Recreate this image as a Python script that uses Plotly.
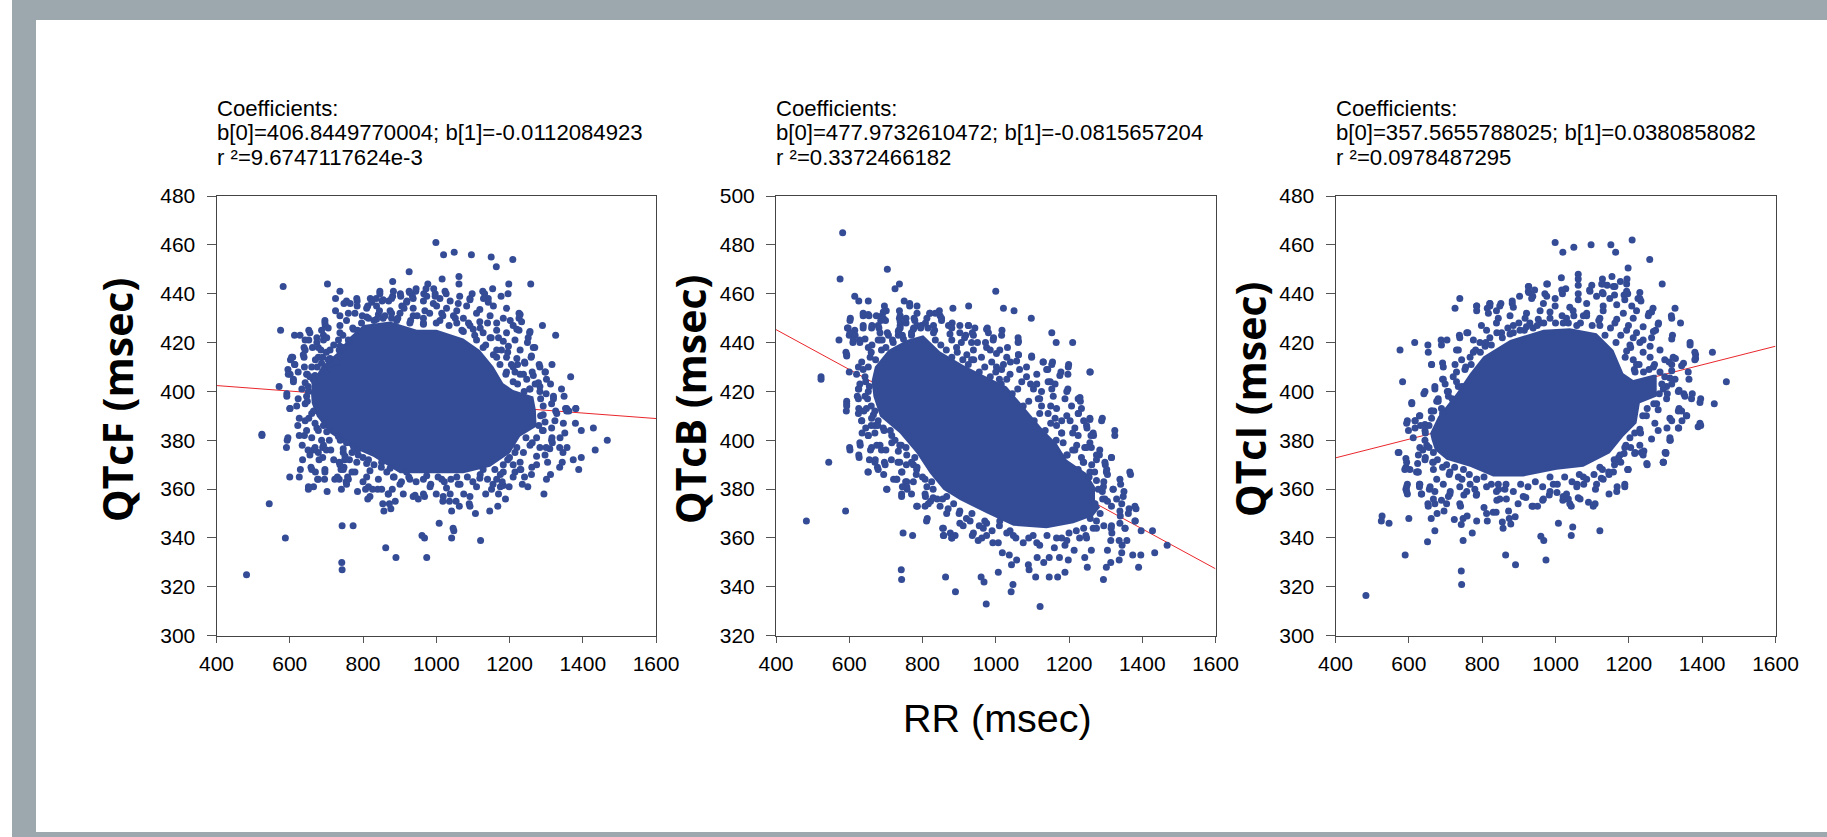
import plotly.graph_objects as go

W, H = 1827, 837

# Every scatter point below. The saturated centre of each
# cloud is drawn as a filled outline (also read off), since single dots cannot be told apart there.
RR_RANGE = [400, 1600]
RR_TICKS = [400, 600, 800, 1000, 1200, 1400, 1600]

QTCF_FIT_Y = [402.4, 388.9]
QTCB_FIT_Y = [445.3, 347.4]
QTCI_FIT_Y = [372.8, 418.5]

QTCF_CORE = [(658,399.5),(660,403.3),(687,410.2),(728,415.6),(765,422.4),(801,427.2),(874,428.6),(947,425.2),(1001,425.2),
 (1074,421.7),(1119,417),(1156,410.2),(1183,403.3),(1210,400.6),(1265,397.9),(1272,392.4),(1274,385.6),(1229,381.5),(1201,374.7),
 (1147,369.2),(1074,366.5),(983,366.5),(901,366.5),(828,373.3),(765,377.4),(710,382.9),(674,389.7),(660,395.2)]
QTCB_CORE = [(661,424.3),(670,430.1),(707,437),(757,441),(802,443),(848,436.3),(911,430.8),(975,426),(1030,422),(1084,412.4),
 (1130,404.2),(1166,398.8),(1194,392),(1248,386.5),(1271,381),(1271,375.6),(1285,372.6),(1266,369),(1212,366),(1139,364),
 (1048,365),(975,370.1),(902,375.6),(857,379.7),(820,386.5),(784,394.7),(738,402.9),(684,409.7),(666,417.9)]
QTCI_CORE = [(658,382.9),(680,389.7),(730,399.3),(767,407.4),(803,414.3),(876,421.1),(967,425.2),(1039,425.9),(1112,423.8),
 (1158,417),(1185,407.4),(1212,404.7),(1267,406.8),(1276,406.8),(1276,405.2),(1276,397.9),(1230,395.2),(1221,387),(1185,381.5),(1148,374.7),
 (1076,369.2),(1003,367.9),(912,365.2),(830,365.2),(767,369.2),(703,372),(671,376),(662,380.2)]

QTCF_POINTS = [(999,461),(1020,456),(1049,457),(1096,456),(1150,455),(1164,451),(1209,454),(926,449),(1062,447),
 (1016,446),(881,445),(1062,444),(977,444),(1198,444),(1258,444),(703,444),(582,443),(737,441),(846,441),(945,442),
 (926,441),(972,442),(993,442),(1154,442),(1127,441),(1098,440),(1064,439),(1196,440),(1177,439),(1132,440),(1142,438),
 (725,438),(902,440),(881,439),(820,438),(836,438),(748,436),(765,436),(784,437),(784,435),(813,435),(852,437),(870,437),
 (920,437),(935,439),(966,440),(997,439),(1027,440),(1092,438),(1226,432),(1226,430),(1290,427),(1326,423),(1255,424),
 (1226,425),(1202,429),(1269,418),(1249,420),(696,429),(697,427),(652,425),(575,425),(613,423),(628,423),(692,423),
 (652,421),(674,422),(692,421),(639,418),(662,418),(608,414),(602,413),(639,414),(595,409),(613,411),(601,407),(610,405),
 (571,402),(592,399),(592,398),(601,393),(1316,411),(1298,408),(1367,406),(1301,405),(1342,401),(1320,398),(1349,398),
 (1381,393),(1356,393),(1326,392),(1283,402),(1281,411),(1259,414),(1241,412),(1222,411),
 (482,325),(524,382.5),(524,382),(544,354),(588,340),(743,345),(773,345),(742,330),(743,327),(862,336),(890,332),(974,332),
 (961,341),(968,340),(1008,346),(1046,344),(1048,343),(1042,340),(1121,339),(1107,350),(1042,351),(1146,351),(1168,353),
 (1189,356),(1294,358),(1250,361),(1199,361),(1175,361),(857,351),(876,352),(872,354),(888,355),(854,354),(813,356),
 (937,357),(951,356),(968,357),(1018,355),(1036,355),(1054,355),(1063,353),(1090,354),(1092,353),(869,358),(785,359),
 (702,359),(651,360),(665,361),(741,360),(807,360),(826,360),(600,365),(626,365),(629,368),(658,369),(670,367),(696,368),
 (676,364),(695,364),(723,364),(735,364),(758,365),(754,363),(778,367),(740,368),(748,369),(735,371),(750,372),(763,372),
 (746,375),(712,376),(690,373),(690,377),(634,378),(591,377),(593,380),(595,381),(626,382),(622,386),(626,389),(600,393),
 (1261,369),(1241,365),(1215,367),(1231,368),(1301,364),(1312,366),(1337,369),(1389,368),(1396,373),(1374,372),(1344,371),
 (1304,371),(1346,375),(1434,376),(1337,377),(1357,377),(1467,380),(1396,384),(1429,385),(1380,387),(1351,383),(1316,381),
 (1317,379),(1381,393),(1353,393),(1362,392),
 (846,440),(883,441),(903,439),(927,440.5),(944,441),(974,439),(997,440),(1024,441),
 (755,437),(783,438),(824,436.5),(855,437.5),(878,438),(919,436.5),(937,438),(965,437),(992,436),(1010,438),(1038,437),(1060,436),(1092,437.5),(1129,438),(1142,436.5),
 (810,434),(837,435),(874,433),(906,435),(937,434),(969,433),(1001,435),(1028,434),(1056,433),(1083,435),(1119,433.5),(1156,435),(1192,434),
 (737,431),(778,432),(810,430.5),(842,431.5),(878,430),(901,432),(937,431),(965,430),(1015,432),(1047,431),(1074,430),(1110,432),(1147,431),(1183,430),(1229,431.5),
 (696,428),(737,427),(755,429),(796,428),(837,429.5),(855,430),(892,429),(928,428),(965,427.5),(1010,429),(1056,428),(1092,427),(1119,428.5),(1165,428),(1210,427),(1233,428.5),
 (655,424),(687,425),(737,424),(774,425.5),(1074,424.5),(1101,425.5),(1128,424),(1165,425),(1192,424),(1220,425.5),(1256,424.5),
 (642,421),(674,420),(701,422),(733,421),(765,420),(1110,421),(1147,422),(1183,420.5),(1215,421),(1251,422),
 (642,417),(678,418),(710,417),(737,418.5),(1128,418),(1165,417),(1197,418.5),(1229,417),(1265,418),
 (605,414),(637,415),(678,414),(710,413.5),(1156,415),(1192,414),(1220,413.5),(1260,414.5),
 (614,411),(660,410),(687,411.5),(1174,411),(1210,410),(1242,411.5),(1283,410),
 (596,407),(623,408),(646,407),(669,406.5),(1192,408),(1229,407),(1265,406.5),(1297,408),
 (610,404),(642,403.5),(664,405),(1210,404),(1247,405),(1279,403.5),
 (633,401),(651,400),(1256,401),(1283,400),(623,397),(646,398),(1320,397),(619,394),(642,395),(1292,394),(1315,395),
 (660,391),(1292,390.5),(1329,391),(1356,392),(642,388),(669,387),(1297,387.5),(1324,388),(1347,387),
 (646,384),(674,385),(701,383.5),(1292,384),(1315,385),(660,381),(687,380),(733,381.5),(1274,381),(1315,380),(1338,381),
 (669,377),(692,378),(746,376.5),(774,377.5),(1256,378),(1283,377),(1310,376.5),
 (655,374),(678,375),(751,373.5),(787,374),(1215,375),(1274,373.5),(1297,374),
 (737,370),(783,371),(810,370.5),(851,371),(1183,370),(1229,371),(1274,370),
 (660,368),(696,367),(746,368),(819,367.5),(874,368.5),(919,367),(1128,368),(1183,367),(1229,368),
 (678,364),(730,365),(760,364),(810,365),(842,364),(883,365),(928,364),(974,365.5),(1015,364),(1056,365),(1119,364.5),(1165,364),(1210,365),
 (651,361),(755,362),(815,361),(851,360),(901,362),(983,361),(1028,360.5),(1065,362),(1110,361),(1151,360),(1183,361.5),
 (819,357),(869,358),(942,357.5),(965,358),(1019,357),(1038,358),(1092,357),(1170,358)]
QTCF_EDGE = [(690,414),(705,413),(720,419),(735,417),(745,423),(760,421),(772,426),(785,425),(798,431),(815,430),(830,429),(845,433),
 (860,431),(878,432),(895,430),(912,434),(930,429),(948,431),(965,428),(982,432),(1000,428),(1018,431),(1035,427),(1052,430),(1070,425),
 (1088,428),(1105,423),(1120,426),(1135,419),(1150,422),(1165,414),(1178,417),(1190,407),(1205,411),(1222,403),(1238,407),(1255,401),
 (1270,403),(1285,397),(1285,390),(1290,384),(1280,386),(1262,379),(1245,381),(1238,375),(1220,377),(1210,370),(1195,372),(1175,366),
 (1160,368),(1140,364),(1120,366),(1100,363),(1085,365),(1060,362),(1040,364),(1022,363),(1005,365),(985,362),(965,364),(945,363),
 (925,365),(905,363),(885,365),(865,367),(850,369),(830,370),(815,372),(800,373),(785,376),(770,375),(755,379),(738,380),(722,384),
 (708,380),(692,386),(678,384),(665,392),(652,389),(648,396),(650,402),(668,404),(675,410),(700,416),(712,409),(728,412),(745,418),(648,407),
 (760,432),(725,433),(705,426),(685,417),(670,413),(655,406),(640,410),(1140,428),(1170,422),(1195,416),(1215,408),(1240,400),(1262,408),
 (1300,399),(1312,403),(1300,377),(1260,366),(1235,362),(1200,373),(1180,363),(1155,362),(1135,358),(1075,358),(1000,358),(910,358),
 (880,360),(840,360),(800,363),(770,367),(720,372),(700,376),(680,372),(665,376),(650,376),(640,382),(635,372)]

QTCB_POINTS = [(582,485),(704,470),(575,466),(725,462),(737,464),(1000,461),(615,459),(626,457),(652,457),(750,457),(765,456),
 (765,455),(785,455),(696,455),(926,455),(883,454),(1021,454),(1050,453),(846,453),(737,453),(701,453),(835,452),(820,452),
 (785,452),(1097,450),(603,450),(638,451),(654,451),(674,451),(689,451),(737,450),(755,450),(777,450),(812,450),(852,449),
 (686,449),(699,449),(755,448),(881,448),(926,447),(902,447),(871,447),(797,447),(662,447),(739,447),(595,446),(638,446),
 (681,446),(776,446),(943,446),(977,446),(1017,445),(833,445),(615,445),(1153,444),(704,444),(600,443),(734,443),(936,444),
 (918,443),(994,442),(1061,442),(572,441),(679,441),(628,441),(1165,440),(1210,440),(1061,440),(610,440),(972,440),(906,440),
 (662,439),(1032,438),(591,436),(593,434.5),(1098,434),(1062,435),(1129,432),(1155,432),(1199,431),(1142,429),(1178,428),
 (1258,428),(1197,427),(600,428),(523,426),(523,425),(1149,424),(1197,421),(1225,417),(1231,416),(1226,411),(1257,409),
 (1291,409),(1325,404),(1267,402),(1249,405),(626,421),(622,418),(593,416),(593,415),(592,412),(626,413),(634,408),(652,402),
 (630,398),(601,397),(626,394),(658,396),(544,391),(671,392),(696,391),(677,389),(651,387),(694,386),(1368,386),(1316,393),
 (1299,390),(1302,387),(1283,394),(1261,397),(1243,397),
 (483,367),(590,371),(747,362),(773,361),(742,347),(743,343),(863,344),(890,338),(960,344),(968,342),(1007,346),(1047,341),
 (1042,338),(974,333),(1121,332),(1089,349),(1091,347),(1043,349),(1109,344),(1146,344),(1169,344),(1189,346),(1250,348),
 (1294,343),(1302,348),(1314,350),(1337,351),(1374,353),(1396,353),(1390,348),(1434,354),(1468,357),(1428,363),(1397,363),
 (1381,367),(1383,372),(1364,372),(1353,364),(1358,359),(1337,359),(1345,357),(1344,354),(1314,359),(1305,355),(1261,355),
 (1243,352),(1198,351),(1174,352),(1214,355),(1189,357),(1246,361),(1229,360),(1320,380),(1341,382),(1350,379),(1291,379),
 (1340,369),(1315,364),(1317,362),(813,368),(786,373),(855,364),(858,361),(876,362),(880,360),(889,361),(936,361),(952,359),
 (962,360),(992,358),(1007,358),(1018,354),(1037,353),(1057,351),(1113,352),(1131,350),(1146,352),(743,378),(703,380),(758,380),
 (721,384),(754,383),(775,383),(744,387),(783,386),(733,391),(756,390),(808,377),(822,375),(807,373),
 (638,452),(652,451.5),(693,452.5),(739,451),(820,452),(848,451),
 (602,449),(693,450),(739,448.5),(779,449),(852,450),
 (597,446),(638,447),(661,446),(679,447),(739,446),(775,445.5),(830,447),(880,446),(925,447),(975,445.5),
 (602,444),(616,443),(684,444),(707,443),(734,444.5),(770,443),(830,444),(875,443.5),(902,444),(939,443),(980,444),(1016,443),
 (611,441),(629,440),(643,441.5),(684,441),(720,440),(748,441.5),(880,441),(934,440),(993,441),(1062,440.5),
 (652,438),(688,437),(893,438),(939,437),(975,438),(1011,437),
 (593,435),(657,434),(921,435),(961,434),(1002,435.5),(1030,434),(1062,435),(1098,434.5),
 (634,432),(934,433),(989,432),(1021,431),(1057,432.5),(1130,432),(1153,431),
 (625,430),(638,429),(1002,430),(1016,429),(1084,430),(1139,429),(1198,430),
 (620,427),(643,426),(1039,427),(1084,426),(1112,427),(1175,426.5),(1257,428),
 (629,423),(1071,424),(1112,423),(1143,424),(1162,423),
 (625,421),(652,420),(1103,421),(1125,420),(1153,421),(1194,420),
 (625,417),(643,418),(1116,417),(1157,418),(1189,417),(1230,417.5),
 (593,414),(647,413),(1125,414),(1166,413),(1207,414),(1234,413),
 (625,411),(666,410.5),(1143,411),(1194,410),(1225,411),
 (634,408),(661,409),(679,408),(1162,409),(1203,408),(1257,408.5),(1289,408),
 (670,406),(693,405),(1166,406),(1216,405),(1248,406),
 (652,402),(670,403),(716,402),(1180,403),(1225,402),(1266,403),(1325,402),
 (629,399),(684,398),(716,399),(738,398),(1184,399),(1221,398),(1257,399),
 (602,396),(661,397),(688,396),(734,395.5),(1216,396),(1248,397),(1284,396),
 (627,393),(757,394),(779,393),(1194,394),(1234,393),(1275,394),(1316,393),
 (670,391),(698,390),(738,391),(775,390),(1239,391),(1262,390),(1298,391),
 (652,387),(679,388),(743,387),(784,388),(1257,387),(1303,388),(1366,387),
 (729,384),(757,383),(807,384),(1275,383.5),(1339,384),
 (702,380),(757,381),(829,380),(1294,381),(1321,380),
 (743,377),(807,378),(829,376.5),(866,377),(1298,376),(1348,377),
 (784,373),(816,374),(848,373),(1271,374),(1316,373),(1344,374),(1380,373),
 (866,370),(902,371),(1285,370),(1339,371),(1362,370),
 (811,367),(902,366),(930,367),(975,366),(1011,367),(1275,367),(1339,366),(1380,367),
 (857,364),(911,365),(966,364),(1039,363),(1102,361),(1166,360),(1266,364),(1316,365),(1353,364),
 (857,361),(880,360),(939,362),(975,361),(1048,361),(1112,358),(1194,359),(1248,360)]
QTCB_EDGE = [(815,446),(835,441),(850,439),(865,437),(880,434),(895,436),(910,433),(925,431),(940,433),(955,428),(970,430),(985,426),
 (1000,428),(1015,423),(1030,425),(1045,419),(1060,421),(1075,414),(1090,416),(1105,408),(1120,411),(1135,404),(1150,407),(1165,400),
 (1180,403),(1195,394),(1210,396),(1225,388),(1240,391),(1255,385),(1270,387),(1280,380),(1292,376),(1295,383),(1305,386),(1275,392),
 (1260,402),(1240,408),(1210,403),(1180,408),(1150,414),(1120,417),(1095,423),(1065,429),(1040,432),(1010,425),(985,437),(950,440),(915,442),
 (655,422),(660,414),(670,412),(678,406),(695,404),(712,404),(725,400),(742,398),(755,397),(770,391),(785,389),(800,385),(812,381),(825,383),
 (840,376),(855,376),(870,372),(885,374),(900,370),(920,368),(935,370),(955,365),(970,367),(990,363),(1010,365),(1030,362),(1055,360),
 (1075,358),(1090,360),(1120,357),(1140,361),(1160,356),(1180,360),(1200,362),(1220,363),(1240,364),(1258,368),(1275,364),(1295,365),
 (1305,375),(1330,376),(652,430),(660,436),(672,433),(690,441),(700,438),(718,441),(735,445),(745,443),(770,444),(785,447),(795,446),(808,448),
 (645,424),(650,417),(640,412),(660,406),(645,405),(635,403),(655,392),(675,398),(700,396),(715,392),(730,384),(745,381),(770,378)]

QTCI_POINTS = [(999,461),(1209,462),(1020,457),(1050,459),(1097,460),(1151,460),(1164,457),(1257,454),(1198,450.5),(1016,446.5),
 (1062,448),(1062,446),(1154,447),(1195,446),(1128,446),(1177,445),(1291,444),(1129,444),(1141,443.5),(1162,443),(978,444),
 (927,443),(943,441.5),(927,440.5),(1099,443.5),(1093,441.5),(1019,440),(1028,442),(1062,440),(1128,440.5),(1197,440),(1187,439.5),
 (1161,439.5),(739,438),(726,434),(785,435),(785,433),(821,436),(821,435),(851,436),(814,434),(882,437),(882,436),(902,439),
 (938,439),(1225,438),(1233,437),(1266,434),(1255,432),(1326,434),(1316,431),(1341,428),(1281,428),(1273,425),(1319,423),
 (1367,420),(1428,416),(1382,415),(1382,413.5),(1349,411.5),(1327,413.5),(1364,405),(1466,404),(1373,399),(1350,399),(1337,400.5),
 (1396,397),(1433,395),(1337,393),(1344,392),(1357,390),(1345,388),(1389,385.5),(1396,386),(1304,385),(1336,385),(1313,380),
 (1301,375),(1294,371),(1250,370),(1197,368),(576,417),(616,420),(652,419),(688,421),(704,421),(738,423),(761,424),(662,411),
 (692,411.6),(583,404),(608,395.5),(641,399),(671,402),(692,405),(730,417),(596,388),(617,388),(629,390),(661,392),(573,375),
 (592,372.5),(592,369),(603,368),(624,370.5),(624,367),
 (483,316.5),(527,349),(525,347),(546,346),(600,348),(590,333),(651,338.5),(671,343),(661,348),(677,350),(696,351),(743,326.5),
 (744,321),(748,339),(773,342),(743,345.5),(724,347.6),(748,348),(759,349),(785,347),(741,353),(814,347),(812,350),(830,350.5),
 (838,350.5),(805,352.5),(855,346.5),(857,344),(878,345.7),(874,348),(890,348.7),(872,351),(864,333),(891,329),(974,331),(960,340.7),
 (968,339),(1008,346),(1047,344.5),(1043,341),(1121,343),(1043,353),(1108,354),(1090,354.6),(1146,358),(1168,361),(1189,362),
 (1198,368),(1249,370.5),(1294,371),(1301,374.6),(1216,374.6),(1234,375),(1241,375.6),(1312,380),(1187,374.6),(1172,373),(1161,370),
 (1146,366),(1125,364.5),(1109,360),(1077,362),(1059,362),(1062,356.5),(1035,356),(1020,355.5),(1004,358.6),(983,357.6),(965,355.5),
 (951,353),(936,353),(919,356.6),(898,354),(866,356),(840,355.5),(784,357.5),(780,360),(750,357.6),(713,359),(703,354),(689,355.5),
 (671,354),(652,354),(634,358),(596,358),(592,360),(596,362),(629,362),(629,361),(656,360),(592,368.5),(621,367),(645,373),
 (926,443),(976,444),(1062,443.5),(1126,444),(1158,443),(1194,444),
 (926,441),(971,440),(1017,441.5),(1094,441),(1130,440),(1194,441),(1230,440.5),
 (935,438),(976,439),(999,438),(1062,437.5),(1112,439),(1148,438),(1189,437.5),(1230,438),
 (785,435),(821,436),(848,435),(885,434.5),(967,436),(999,435),(1039,434.5),(1085,436),(1130,435),(1167,435.5),(1208,435),
 (817,432),(839,433),(921,432),(958,433),(985,432.5),(1048,433),(1085,432),(1130,433),(1185,432),(1221,433),(1262,432.5),
 (844,430),(876,431),(917,430),(953,429.5),(1030,430),(1076,431),(1121,430),(1167,429.5),(1212,430),(1253,431),(1317,430),
 (798,427),(839,428),(885,427),(921,426.5),(958,428),(1021,428),(1058,427),(1121,427),(1162,428),(1199,427),(1239,426.5),(1280,427.5),
 (758,424),(812,425),(853,424),(903,425),(939,426),(1194,425),(1221,424),(1267,424.5),
 (739,422),(776,421),(821,422),(876,423.5),(1212,422),(1239,421),(1262,422),(1317,421.5),
 (689,419),(794,420),(808,418.5),(1203,419),(1230,420),(1258,418.5),(1367,419),
 (653,416),(735,417),(776,416),(1194,416.5),(1239,416),(1285,417),(1380,416),
 (744,413),(767,414),(1212,413),(1258,414),(1298,413),(1321,414),(1380,413),
 (662,411),(694,410),(726,411),(1221,411),(1267,410),(1317,411),(1344,410.5),
 (730,408),(753,409),(1217,408),(1317,408.5),(1362,408),
 (694,405),(721,406),(1312,405.5),(1326,405),(699,403),(735,402),(1317,403),(1303,402),
 (644,400),(671,401),(708,400),(1335,400),(1294,401),(680,397),(708,398),(1303,397),(1353,398),(1371,397),
 (608,395),(676,396),(1276,395),(1394,395.5),(662,392),(689,393),(1280,392.5),(1335,392),
 (630,390),(662,389),(1248,390),(1312,389),(1358,390),(594,387),(617,388),(644,386.5),(1271,387),(1317,388),(1394,387),
 (599,384),(617,385),(644,384),(1230,384.5),(1280,384),(1335,385),(612,381),(644,380),(1203,381),(1262,380.5),(1312,381),
 (630,377),(649,378),(1189,377),(1230,378),(571,375),(626,374),(667,375),(1176,374),(1217,375),(1239,374),(1299,375),
 (594,371),(644,372),(667,371),(703,370),(1171,372),(1294,371),(589,368),(626,367),(667,368),(712,367),(749,368),(1121,369),(1158,367),(1198,368),
 (676,364),(735,365),(785,364),(1076,365),(1130,364),
 (594,361),(630,362),(658,361),(694,362),(739,361),(767,362),(812,361),(844,362),(994,362),(1058,361),(1112,362),(1189,361),
 (594,359),(635,358),(671,359),(712,358),(758,359),(785,358),(839,359),(862,360),(985,359),(1030,358),(1167,359),
 (667,356),(708,357),(848,356),(912,357),(967,356),(1021,357),(1067,356),
 (653,353),(739,354),(939,353),(1039,354),(1103,353)]
QTCI_EDGE = [(655,386),(668,392),(680,396),(692,391),(705,400),(718,397),(730,404),(745,402),(755,410),(770,411),(782,417),(795,416),
 (810,420),(825,419),(840,424),(855,422),(870,426),(885,424),(900,428),(915,425),(930,428),(950,427),(968,428),(985,430),(1000,428),
 (1018,431),(1035,428),(1050,431),(1068,428),(1085,431),(1100,427),(1118,429),(1135,423),(1150,426),(1165,420),(1178,423),(1190,414),
 (1205,418),(1215,409),(1228,411),(1240,408),(1255,409),(1270,411),(1285,408),(1298,406),(1310,412),(1290,403),(1305,399),(1283,399),
 (1268,395),(1250,393),(1238,390),(1232,383),(1216,383),(1205,377),(1192,378),(1178,371),(1160,372),(1145,367),(1128,368),(1105,366),
 (1085,364),(1065,366),(1045,363),(1025,365),(1005,362),(985,365),(965,361),(945,363),(925,361),(905,362),(885,359),(865,362),(845,360),
 (825,362),(805,365),(785,364),(765,366),(745,364),(725,369),(710,366),(692,369),(678,372),(665,371),(655,377),(645,383),(638,376),(632,386)]

PANELS = [
    dict(name="QTcF (msec)", core=QTCF_CORE, pts=QTCF_POINTS + QTCF_EDGE, fit=QTCF_FIT_Y, yr=[300, 480], left=216.5, right=656, title_x=117,
         text=["Coefficients:", "b[0]=406.8449770004; b[1]=-0.0112084923", "r ²=9.6747117624e-3"]),
    dict(name="QTcB (msec)", core=QTCB_CORE, pts=QTCB_POINTS + QTCB_EDGE, fit=QTCB_FIT_Y, yr=[320, 500], left=776, right=1215.5, title_x=690,
         text=["Coefficients:", "b[0]=477.9732610472; b[1]=-0.0815657204", "r ²=0.3372466182"]),
    dict(name="QTcI (msec)", core=QTCI_CORE, pts=QTCI_POINTS + QTCI_EDGE, fit=QTCI_FIT_Y, yr=[300, 480], left=1335.5, right=1775.5, title_x=1250,
         text=["Coefficients:", "b[0]=357.5655788025; b[1]=0.0380858082", "r ²=0.0978487295"]),
]
TOP, BOTTOM = 196, 635.7
BLUE, RED, GREY = "#344b96", "#e9262b", "#9ca8ae"
SANS = "Liberation Sans, Arial, sans-serif"

fig = go.Figure()
annotations = []
for i, p in enumerate(PANELS):
    sfx = "" if i == 0 else str(i + 1)
    xa, ya = "x" + sfx, "y" + sfx
    fig.add_trace(go.Scatter(x=RR_RANGE, y=p["fit"], mode="lines", line=dict(color=RED, width=1), xaxis=xa, yaxis=ya, showlegend=False))
    fig.add_trace(go.Scatter(x=[c[0] for c in p["core"]], y=[c[1] for c in p["core"]], mode="none", fill="toself", fillcolor=BLUE,
                             xaxis=xa, yaxis=ya, showlegend=False))
    fig.add_trace(go.Scatter(x=[c[0] for c in p["pts"]], y=[c[1] for c in p["pts"]], mode="markers",
                             marker=dict(color=BLUE, size=7, line=dict(width=0)), xaxis=xa, yaxis=ya, showlegend=False))
    axis = dict(showgrid=False, zeroline=False, showline=True, mirror=True, linecolor="#444444", linewidth=1, ticks="outside",
                tickcolor="#555555", tickwidth=1, automargin=False, tickfont=dict(family=SANS, size=21, color="black"))
    fig.update_layout({
        "xaxis" + sfx: dict(axis, domain=[p["left"] / W, p["right"] / W], range=RR_RANGE, tickvals=RR_TICKS, ticklen=6, anchor=ya,
                            ticklabelstandoff=3),
        "yaxis" + sfx: dict(axis, domain=[1 - BOTTOM / H, 1 - TOP / H], range=p["yr"], dtick=20, ticklen=9, anchor=xa,
                            ticklabelstandoff=7),
    })
    for line, yy in zip(p["text"], [108, 133, 158]):
        annotations.append(dict(text=line, xref="paper", yref="paper", x=(p["left"] - 2) / W, y=1 - yy / H, xanchor="left", yanchor="middle",
                                showarrow=False, font=dict(family=SANS, size=22.15, color="black")))
    annotations.append(dict(text="<b>%s</b>" % p["name"], xref="paper", yref="paper", x=p["title_x"] / W, y=1 - 400 / H, textangle=-90,
                            xanchor="center", yanchor="middle", showarrow=False,
                            font=dict(family="Open Sans", size=41, color="black")))
annotations.append(dict(text="RR (msec)", xref="paper", yref="paper", x=997 / W, y=1 - 718 / H, xanchor="center", yanchor="middle",
                        showarrow=False, font=dict(family=SANS, size=39.5, color="black")))

def band(x0, y0, x1, y1):
    return dict(type="rect", xref="paper", yref="paper", x0=x0 / W, x1=x1 / W, y0=1 - y0 / H, y1=1 - y1 / H,
                fillcolor=GREY, line_width=0, layer="below")

fig.update_layout(width=W, height=H, margin=dict(l=0, r=0, t=0, b=0, autoexpand=False), autosize=False, paper_bgcolor="white",
                  plot_bgcolor="white", showlegend=False, annotations=annotations,
                  shapes=[band(12, 0, W, 20), band(12, 0, 36, H), band(12, 832, W, H)])
fig.write_html("out.html", config={"displayModeBar": False},
               post_script="document.body.style.margin='0';document.body.style.overflow='hidden';")
